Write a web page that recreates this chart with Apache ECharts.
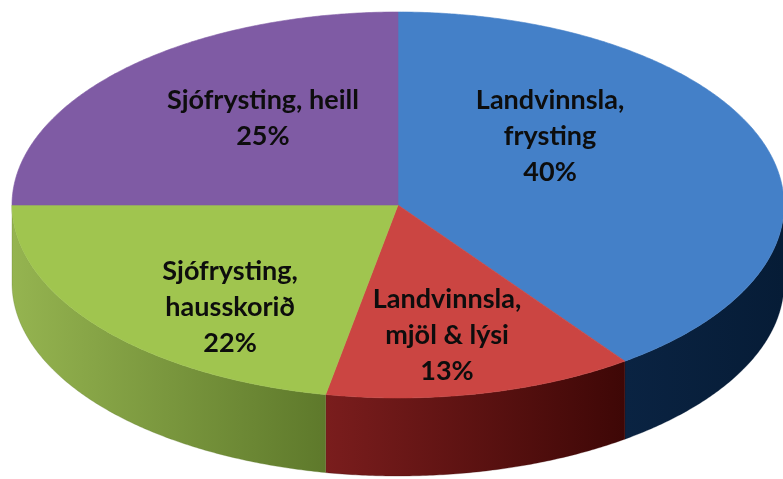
<!DOCTYPE html>
<html>
<head>
<meta charset="utf-8">
<script src="https://cdn.jsdelivr.net/npm/echarts@6/dist/echarts.min.js"></script>
<style>
  html, body { margin: 0; padding: 0; background: #fff; }
  #chart { width: 783px; height: 479px; }
</style>
</head>
<body>
<div id="chart"></div>
<script>
// data
const categories = ['Landvinnsla,\nfrysting', 'Landvinnsla,\nmjöl & lýsi', 'Sjófrysting,\nhausskorið', 'Sjófrysting, heill']
const values = [40, 13, 22, 25]

// look
const topColors = ['#4480C8', '#CB4542', '#A0C54F', '#7F5BA4']
const sideColors = [
  ['#0A2342', '#061C36'],
  ['#7A1D1D', '#3E0706'],
  ['#95B450', '#5E792B'],
  ['#4A3366', '#3A2752']
]
// label anchor, in units of the ellipse radii from the centre
const labelAnchors = [[0.394, -0.358], [0.127, 0.674], [-0.435, 0.528], [-0.35, -0.45]]

const CX = 398, CY = 205, RX = 386, RY = 193, DEPTH = 78
const total = values.reduce((a, b) => a + b, 0)

function pt (deg, dy) {
  const r = deg * Math.PI / 180
  return [CX + RX * Math.sin(r), CY - RY * Math.cos(r) + (dy || 0)]
}

function arc (a0, a1, dy) {
  const pts = []
  const step = a1 > a0 ? 0.5 : -0.5
  for (let d = a0; step > 0 ? d < a1 : d > a1; d += step) pts.push(pt(d, dy))
  pts.push(pt(a1, dy))
  return pts
}

function renderItem (params, api) {
  const i = params.dataIndex
  let start = 0
  for (let j = 0; j < i; j++) start += values[j]
  const a0 = start / total * 360
  const a1 = (start + api.value(0)) / total * 360
  const children = []

  // top face
  children.push({
    type: 'polygon',
    shape: { points: [[CX, CY]].concat(arc(a0, a1, 0)) },
    style: { fill: topColors[i], stroke: topColors[i], lineWidth: 0.6 },
    z2: 10
  })

  // front side, only the part facing us
  const s0 = Math.max(a0, 90)
  const s1 = Math.min(a1, 270)
  if (s1 > s0) {
    const pts = arc(s0, s1, 0).concat(arc(s1, s0, DEPTH))
    children.push({
      type: 'polygon',
      shape: { points: pts },
      style: {
        fill: new echarts.graphic.LinearGradient(0, 0, 1, 0, [
          { offset: 0, color: sideColors[i][0] },
          { offset: 1, color: sideColors[i][1] }
        ]),
        stroke: sideColors[i][1],
        lineWidth: 0.3
      },
      z2: 1
    })
  }

  // label
  const pct = Math.round(api.value(0) / total * 100) + '%'
  children.push({
    type: 'text',
    x: CX + labelAnchors[i][0] * RX,
    y: CY + labelAnchors[i][1] * RY,
    style: {
      text: categories[i] + '\n' + pct,
      fill: '#0d0d0d',
      fontFamily: 'Lato',
      fontWeight: 'bold',
      fontSize: 27,
      lineHeight: 36,
      align: 'center',
      verticalAlign: 'middle'
    },
    z2: 20
  })

  return { type: 'group', children }
}

const chart = echarts.init(document.getElementById('chart'))
chart.setOption({
  backgroundColor: '#fff',
  animation: false,
  series: [
    {
      type: 'custom',
      coordinateSystem: 'none',
      renderItem: renderItem,
      data: values.map((v, i) => ({ value: [v], name: categories[i] }))
    }
  ]
})
</script>
</body>
</html>
